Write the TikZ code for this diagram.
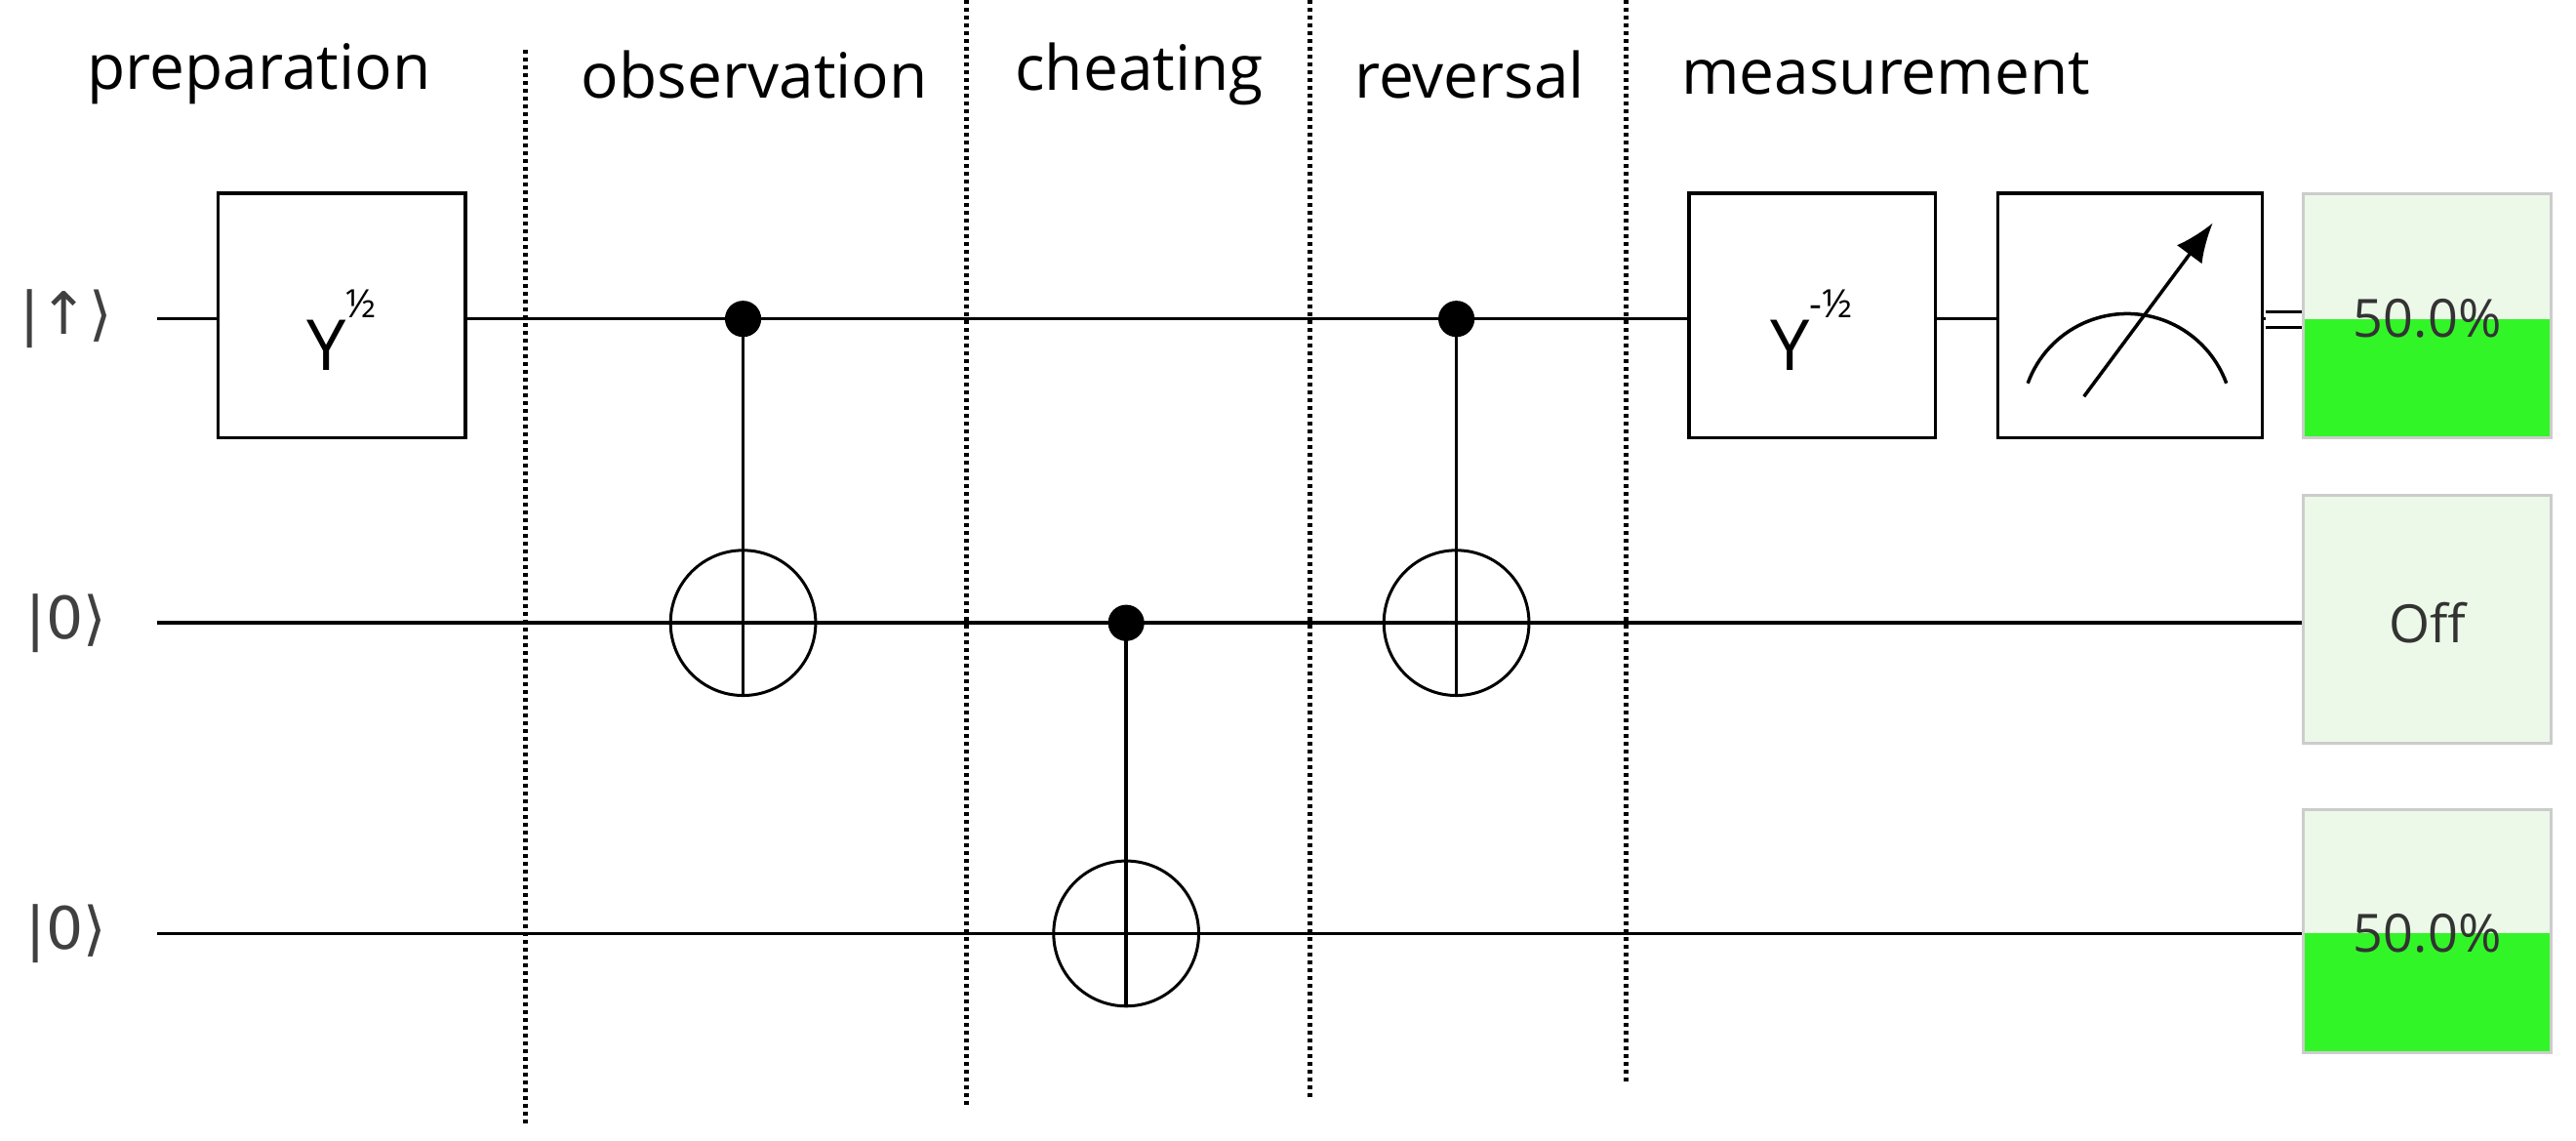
\documentclass[tikz,border=0pt]{standalone}
\usepackage{fontspec}
\setmainfont{Open Sans}
\newfontfamily\dejav{DejaVu Sans}
\usetikzlibrary{calc,arrows.meta}
\definecolor{lg}{RGB}{236,248,232}
\definecolor{gg}{RGB}{50,245,40}
\newcommand{\supr}[1]{\raisebox{0.75em}{\fontsize{40}{44}\selectfont #1}}
\begin{document}
\begin{tikzpicture}[x=1.6923pt,y=-1.6928pt,
  wire/.style={line width=3.5pt},
  gate/.style={draw,line width=3.5pt,fill=white},
  dots/.style={line width=5pt,dash pattern=on 4pt off 4pt},
  lab/.style={font=\fontsize{64}{72}\selectfont,inner sep=0},
  ket/.style={font=\dejav\fontsize{60}{70}\selectfont,inner sep=0,text=black!75},
  ctl/.style={circle,fill=black,minimum size=22*1.69pt,inner sep=0},
  tgt/.style={circle,draw,line width=3pt,minimum size=88*1.69pt,inner sep=0},
  res/.style={draw=gray!40,line width=3pt,fill=lg}]
\useasboundingbox (0,0) rectangle (1560,690);
% labels
\node[ket] (k1) at (40,193) {|↑⟩};
\node[ket] (k2) at (40,377) {|0⟩};
\node[ket] (k3) at (40,565) {|0⟩};
\coordinate (s1) at (95,193); \coordinate (s2) at (95,377); \coordinate (s3) at (95,565);
\coordinate (e1) at (1372,193); \coordinate (e2) at (1395,377); \coordinate (e3) at (1395,565);
\draw[wire] (s1)--(e1); \draw[wire] (s2)--(e2); \draw[wire] (s3)--(e3);
\draw[line width=3pt] (1372,189)--(1395,189) (1372,198)--(1395,198);
% dotted separators
\draw[dots] (318,30)--(318,680);
\draw[dots] (585,0)--(585,670);
\draw[dots] (793,0)--(793,665);
\draw[dots] (985,0)--(985,655);
% headers
\node[lab] (h1) at (157,45) {preparation};
\node[lab] (h2) at (457,45) {observation};
\node[lab] (h3) at (690,45) {cheating};
\node[lab] (h4) at (890,45) {reversal};
\node[lab] (h5) at (1142,45) {measurement};
% gates
\draw[gate] (132,117) rectangle (282,265);
\node[lab,font=\fontsize{72}{80}\selectfont] (g1) at (207,200) {Y\supr{½}};
\draw[gate] (1023,117) rectangle (1172,265);
\node[lab,font=\fontsize{72}{80}\selectfont] (g2) at (1097,200) {Y\supr{-½}};
\draw[gate] (1210,117) rectangle (1370,265);
\draw[line width=3.5pt] (1228,232) arc[start angle=-160,end angle=-20,radius=64];
\draw[line width=3.5pt,-{Latex[length=40pt,width=32pt]}] (1262,240)--(1340,135);
% CNOTs
\node[tgt] (t1) at (450,377) {}; \node[ctl] (c1) at (450,193) {};
\draw[wire] (c1.center)--(t1.south); \draw[wire] (t1.west)--(t1.east);
\node[tgt] (t2) at (682,565) {}; \node[ctl] (c2) at (682,377) {};
\draw[wire] (c2.center)--(t2.south); \draw[wire] (t2.west)--(t2.east);
\node[tgt] (t3) at (882,377) {}; \node[ctl] (c3) at (882,193) {};
\draw[wire] (c3.center)--(t3.south); \draw[wire] (t3.west)--(t3.east);
% results
\draw[res] (1395,117) rectangle (1545,265);
\fill[gg] (1396,193) rectangle (1544,264);
\node[lab,font=\fontsize{54}{60}\selectfont,text=black!80] (r1) at (1470,193) {50.0\%};
\draw[res] (1395,300) rectangle (1545,450);
\node[lab,font=\fontsize{54}{60}\selectfont,text=black!80] (r2) at (1470,377) {Off};
\draw[res] (1395,490) rectangle (1545,637);
\fill[gg] (1396,565) rectangle (1544,636);
\node[lab,font=\fontsize{54}{60}\selectfont,text=black!80] (r3) at (1470,565) {50.0\%};
\end{tikzpicture}
\end{document}
